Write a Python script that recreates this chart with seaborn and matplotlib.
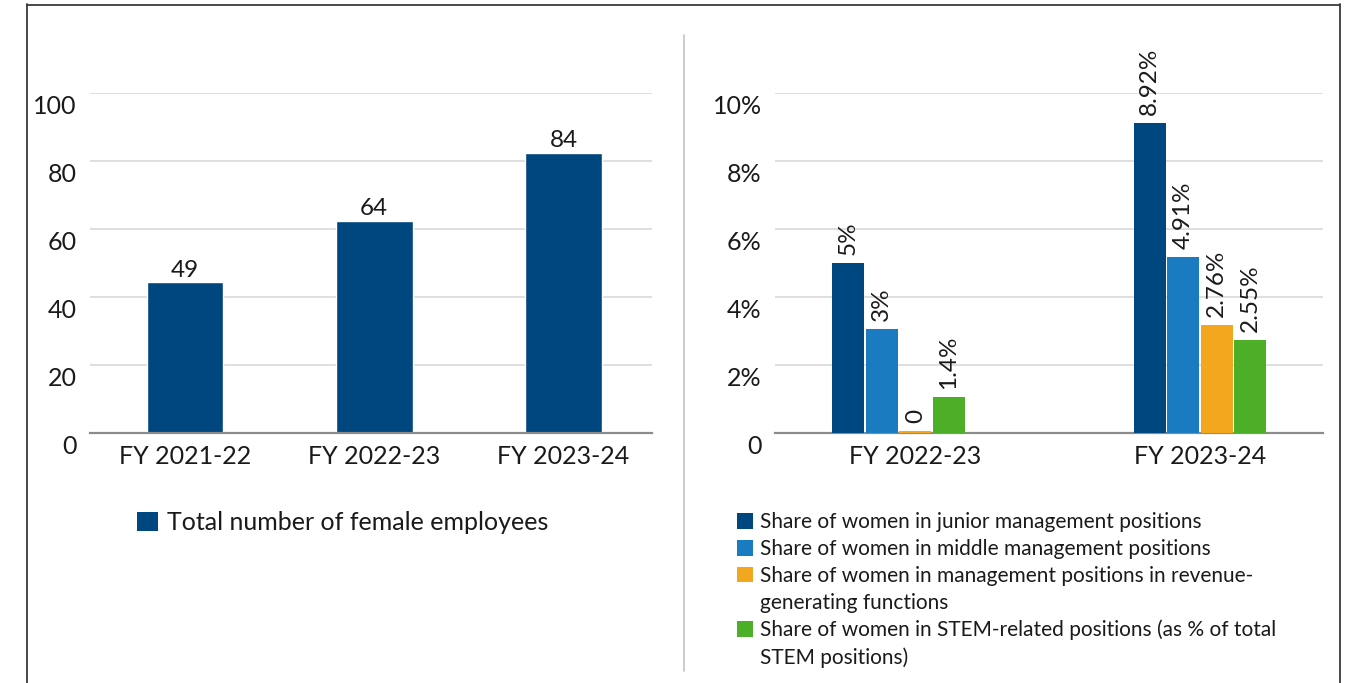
import matplotlib
matplotlib.use("Agg")
import matplotlib.pyplot as plt
import seaborn as sns
import pandas as pd
from matplotlib.transforms import ScaledTranslation
from matplotlib.lines import Line2D
from matplotlib.patches import Patch

# ---------------- data ----------------
years_left = ["FY 2021-22", "FY 2022-23", "FY 2023-24"]
female_heights = [44.5, 62.5, 82.5]          # bar heights as drawn
female_labels = ["49", "64", "84"]           # printed labels
left_series = "Total number of female employees"

years_right = ["FY 2022-23", "FY 2023-24"]
series_names = [
    "Share of women in junior management positions",
    "Share of women in middle management positions",
    "Share of women in management positions in revenue-generating functions",
    "Share of women in STEM-related positions (as % of total STEM positions)",
]
junior = [5.0, 9.12]
middle = [3.06, 5.18]
revenue = [0.07, 3.18]
stem = [1.07, 2.74]
junior_labels = ["5%", "8.92%"]
middle_labels = ["3%", "4.91%"]
revenue_labels = ["0", "2.76%"]
stem_labels = ["1.4%", "2.55%"]
legend_lines = [
    "Share of women in junior management positions",
    "Share of women in middle management positions",
    "Share of women in management positions in revenue-",
    "generating functions",
    "Share of women in STEM-related positions (as % of total",
    "STEM positions)",
]
left_ticks = [0, 20, 40, 60, 80, 100]
left_ticklabels = ["0", "20", "40", "60", "80", "100"]
right_ticks = [0, 2, 4, 6, 8, 10]
right_ticklabels = ["0", "2%", "4%", "6%", "8%", "10%"]

NAVY = "#00467f"
BLUE = "#1b7bc0"
ORANGE = "#f2a71e"
GREEN = "#4caf27"
colors = [NAVY, BLUE, ORANGE, GREEN]

# ---------------- style ----------------
sns.set_theme(style="white")
plt.rcParams["font.family"] = ["Lato", "DejaVu Sans"]
plt.rcParams["text.color"] = "#1a1a1a"

W, H = 1351, 683
fig = plt.figure(figsize=(W / 100, H / 100), dpi=100)
fig.patch.set_facecolor("white")

FS = 18
FSL = 17.5
GRID = "#d9d9d9"
AXIS = "#8c8c8c"


def style_axis(ax, ticks, ticklabels):
    ax.set_ylim(0, ticks[-1])
    ax.set_yticks(ticks)
    ax.set_yticklabels(ticklabels)
    ax.yaxis.grid(True, color=GRID, lw=1.2)
    ax.xaxis.grid(False)
    ax.set_axisbelow(True)
    for s in ["left", "right", "top"]:
        ax.spines[s].set_visible(False)
    ax.spines["bottom"].set_color(AXIS)
    ax.spines["bottom"].set_linewidth(1.6)
    ax.tick_params(axis="both", length=0, labelsize=FS, colors="#1a1a1a")
    ax.tick_params(axis="y", pad=9.5)
    ax.tick_params(axis="x", pad=8.5)
    ax.set_xlabel("")
    ax.set_ylabel("")
    off = ScaledTranslation(0, -11 / 100, fig.dpi_scale_trans)
    for lbl in ax.get_yticklabels():
        lbl.set_transform(lbl.get_transform() + off)


# ---------------- left panel ----------------
axL = fig.add_axes([90 / W, (H - 433.3) / H, 562 / W, 340 / H])
df_left = pd.DataFrame({"year": years_left, "value": female_heights})
sns.barplot(data=df_left, x="year", y="value", color=NAVY, saturation=1,
            width=0.405, ax=axL)
axL.set_xlim(-0.502, 2.468)
style_axis(axL, left_ticks, left_ticklabels)
axL.bar_label(axL.containers[0], labels=female_labels, padding=1, fontsize=FSL,
              color="#1a1a1a")

# ---------------- right panel ----------------
axR = fig.add_axes([775 / W, (H - 433.3) / H, 548 / W, 340 / H])
rows = []
for name, vals in zip(series_names, [junior, middle, revenue, stem]):
    for yr, v in zip(years_right, vals):
        rows.append({"year": yr, "series": name, "value": v})
df_right = pd.DataFrame(rows)
sns.barplot(data=df_right, x="year", y="value", hue="series",
            hue_order=series_names, order=years_right,
            palette=colors, saturation=1, width=0.445, gap=0.05,
            linewidth=0, ax=axR, legend=False)
axR.set_xlim(-0.4096, 1.408)
style_axis(axR, right_ticks, right_ticklabels)
for cont, labs in zip(axR.containers,
                      [junior_labels, middle_labels, revenue_labels, stem_labels]):
    for p in cont.patches:
        p.set_zorder(3)
    axR.bar_label(cont, labels=labs, rotation=90, padding=6, fontsize=FSL,
                  color="#1a1a1a")
# first category label sits a little right of its bar group
xl = axR.get_xticklabels()
xl[0].set_transform(xl[0].get_transform() +
                    ScaledTranslation(17 / 100, 0, fig.dpi_scale_trans))

# ---------------- legends ----------------
fig.legend(handles=[Patch(facecolor=NAVY, edgecolor="none")],
           labels=[left_series], loc="center left",
           bbox_to_anchor=(137 / W, 1 - 523 / H), frameon=False,
           fontsize=FS, handlelength=0.84, handleheight=0.8,
           handletextpad=0.36, borderpad=0, borderaxespad=0)

FS2 = 15
handles = [Patch(facecolor=NAVY, edgecolor="none"),
           Patch(facecolor=BLUE, edgecolor="none"),
           Patch(facecolor=ORANGE, edgecolor="none"),
           Patch(facecolor="none", edgecolor="none"),
           Patch(facecolor=GREEN, edgecolor="none"),
           Patch(facecolor="none", edgecolor="none")]
fig.legend(handles=handles, labels=legend_lines, loc="center left",
           bbox_to_anchor=(737 / W, 1 - 590 / H), frameon=False,
           fontsize=FS2, handlelength=0.77, handleheight=0.77,
           handletextpad=0.33, labelspacing=0.33, borderpad=0,
           borderaxespad=0)

# ---------------- frame & divider ----------------
BORDER = "#3a3a3a"
fig.add_artist(Line2D([27 / W, 27 / W], [0, 1 - 4 / H], transform=fig.transFigure,
                      color=BORDER, lw=1.3))
fig.add_artist(Line2D([27 / W, 1340 / W], [1 - 4.5 / H, 1 - 4.5 / H],
                      transform=fig.transFigure, color=BORDER, lw=1.3))
fig.add_artist(Line2D([1340 / W, 1340 / W], [0, 1 - 4 / H], transform=fig.transFigure,
                      color=BORDER, lw=1.3))
fig.add_artist(Line2D([684 / W, 684 / W], [1 - 671 / H, 1 - 35 / H],
                      transform=fig.transFigure, color="#c4c4c4", lw=1.2))

fig.savefig("out.png", dpi=100)
